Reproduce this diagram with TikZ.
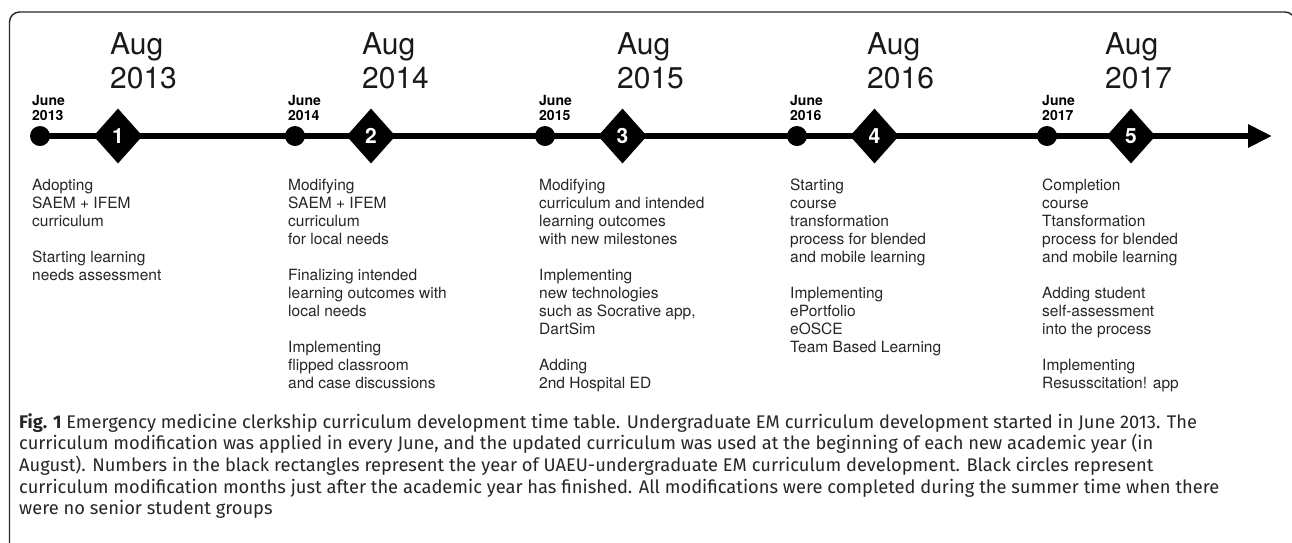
\documentclass[tikz,border=0pt]{standalone}
\usepackage{fontspec}
\setmainfont{TeX Gyre Heros}
\newfontfamily\capfont{Fira Sans}
\usetikzlibrary{arrows.meta,shapes.geometric}
\pgfdeclarelayer{background}
\pgfsetlayers{background,main}
\newcommand{\tlines}[1]{\begin{tabular}[t]{@{}l@{}}#1\end{tabular}}
\begin{document}
\begin{tikzpicture}[x=1pt,y=-1pt,
  desc/.style={anchor=base west, inner sep=0pt, font=\fontsize{15.5}{18}\selectfont, text=black!85},
  june/.style={anchor=base west, inner sep=0pt, font=\bfseries\fontsize{14}{15.5}\selectfont},
  aug/.style={anchor=base west, inner sep=0pt, font=\fontsize{30}{34}\selectfont, text=black!90},
  dot/.style={circle, fill=black, minimum size=20pt, inner sep=0pt},
  yearbox/.style={diamond, fill=black, minimum width=49pt, minimum height=55pt, inner sep=0pt, text=white, font=\bfseries\fontsize{21}{21}\selectfont},
  timeline/.style={line width=6.5pt, -{Triangle[length=24pt,width=22pt]}},
  frame/.style={line width=1.4pt, black!85, rounded corners=10pt},
  caption/.style={anchor=base west, inner sep=0pt, font=\capfont\fontsize{18.3}{21.4}\selectfont, text=black!85}
]
\useasboundingbox (0,0) rectangle (1292,542);
\draw[frame] (9.5,620) -- (9.5,12) -- (1295,12) -- (1295,620);

% June circles
\node[dot] (c1) at (40,136) {};
\node[dot] (c2) at (295,136) {};
\node[dot] (c3) at (545,136) {};
\node[dot] (c4) at (797,136) {};
\node[dot] (c5) at (1047,136) {};
% Year diamonds
\node[yearbox] (d1) at (118,136) {1};
\node[yearbox] (d2) at (371,136) {2};
\node[yearbox] (d3) at (622.5,136) {3};
\node[yearbox] (d4) at (874.5,136) {4};
\node[yearbox] (d5) at (1131,136) {5};
\coordinate (tip) at (1272,136);
\begin{pgfonlayer}{background}
\draw[timeline] (c1.center) -- (tip);
\end{pgfonlayer}

% June labels
\node[june] (j1) at (32,105) {\tlines{June\\2013}};
\node[june] (j2) at (288,105) {\tlines{June\\2014}};
\node[june] (j3) at (539,105) {\tlines{June\\2015}};
\node[june] (j4) at (790,105) {\tlines{June\\2016}};
\node[june] (j5) at (1042,105) {\tlines{June\\2017}};

% Aug labels
\node[aug] (a1) at (110,54) {\tlines{Aug\\2013}};
\node[aug] (a2) at (362,54) {\tlines{Aug\\2014}};
\node[aug] (a3) at (617,54) {\tlines{Aug\\2015}};
\node[aug] (a4) at (867,54) {\tlines{Aug\\2016}};
\node[aug] (a5) at (1105,54) {\tlines{Aug\\2017}};

% Descriptions
\node[desc] (t1) at (32,190) {\tlines{Adopting\\SAEM + IFEM\\curriculum\\[18pt]Starting learning\\needs assessment}};
\node[desc] (t2) at (288,190) {\tlines{Modifying\\SAEM + IFEM\\curriculum\\for local needs\\[18pt]Finalizing intended\\learning outcomes with\\local needs\\[18pt]Implementing\\flipped classroom\\and case discussions}};
\node[desc] (t3) at (539,190) {\tlines{Modifying\\curriculum and intended\\learning outcomes\\with new milestones\\[18pt]Implementing\\new technologies\\such as Socrative app,\\DartSim\\[18pt]Adding\\2nd Hospital ED}};
\node[desc] (t4) at (790,190) {\tlines{Starting\\course\\transformation\\process for blended\\and mobile learning\\[18pt]Implementing\\ePortfolio\\eOSCE\\Team Based Learning}};
\node[desc] (t5) at (1042,190) {\tlines{Completion\\course\\Ttansformation\\process for blended\\and mobile learning\\[18pt]Adding student\\self-assessment\\into the process\\[18pt]Implementing\\Resusscitation! app}};

% Caption
\node[caption] (cap) at (19,428) {\tlines{\textbf{Fig. 1} Emergency medicine clerkship curriculum development time table. Undergraduate EM curriculum development started in June 2013. The\\curriculum modification was applied in every June, and the updated curriculum was used at the beginning of each new academic year (in\\August). Numbers in the black rectangles represent the year of UAEU-undergraduate EM curriculum development. Black circles represent\\curriculum modification months just after the academic year has finished. All modifications were completed during the summer time when there\\were no senior student groups}};
\end{tikzpicture}
\end{document}
